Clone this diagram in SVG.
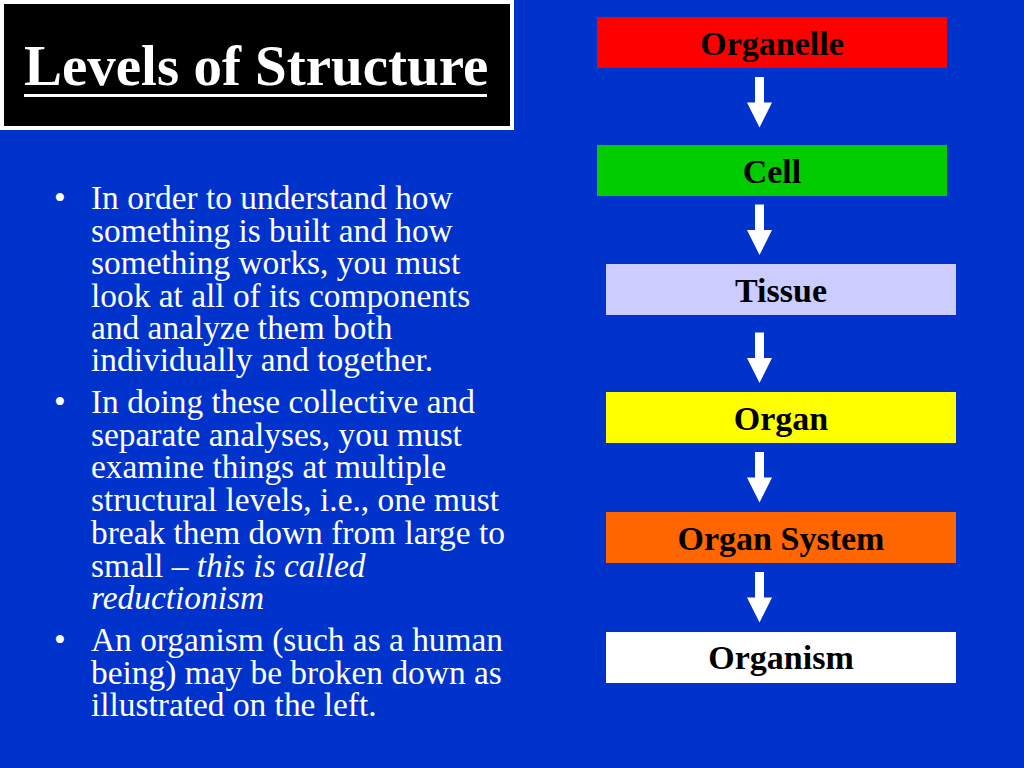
<svg xmlns="http://www.w3.org/2000/svg" xmlns:xlink="http://www.w3.org/1999/xlink" width="1024" height="768" viewBox="0 0 1024 768">
<defs>
<style>
.title{font-family:"Liberation Serif","Times New Roman",serif;font-weight:bold;font-size:57px;fill:#fff}
.body{font-family:"Liberation Serif","Times New Roman",serif;font-size:33.4px;fill:#fff}
.lbl{font-family:"Liberation Serif","Times New Roman",serif;font-weight:bold;font-size:34px;fill:#000;text-anchor:middle}
</style>
<path id="arrow" d="M-4.5,0 H4.5 V25.5 H12.5 L0,50.5 L-12.5,25.5 H-4.5 Z" fill="#fff"/>
</defs>
<rect x="0" y="0" width="1024" height="768" fill="#0033CC"/>
<g id="title">
<rect x="2" y="2" width="510" height="126" fill="#000" stroke="#fff" stroke-width="4"/>
<text class="title" x="24" y="85">Levels of Structure</text>
<rect x="24" y="94" width="463" height="3" fill="#fff"/>
</g>
<g id="bullets">
<text class="body" x="54" y="209">•</text>
<text class="body"><tspan x="91" y="209">In order to understand how</tspan><tspan x="91" y="242">something is built and how</tspan><tspan x="91" y="274">something works, you must</tspan><tspan x="91" y="307">look at all of its components</tspan><tspan x="91" y="339">and analyze them both</tspan><tspan x="91" y="371">individually and together.</tspan></text>
<text class="body" x="54" y="413">•</text>
<text class="body"><tspan x="91" y="413">In doing these collective and</tspan><tspan x="91" y="446">separate analyses, you must</tspan><tspan x="91" y="478">examine things at multiple</tspan><tspan x="91" y="511">structural levels, i.e., one must</tspan><tspan x="91" y="544">break them down from large to</tspan><tspan x="91" y="577">small – </tspan><tspan font-style="italic">this is called</tspan><tspan x="91" y="609" font-style="italic">reductionism</tspan></text>
<text class="body" x="54" y="651">•</text>
<text class="body"><tspan x="91" y="651">An organism (such as a human</tspan><tspan x="91" y="684">being) may be broken down as</tspan><tspan x="91" y="716">illustrated on the left.</tspan></text>
</g>
<g id="connectors">
<use xlink:href="#arrow" href="#arrow" transform="translate(759.5,77)"/>
<use xlink:href="#arrow" href="#arrow" transform="translate(759.5,204.5)"/>
<use xlink:href="#arrow" href="#arrow" transform="translate(759.5,332.5)"/>
<use xlink:href="#arrow" href="#arrow" transform="translate(759.5,452)"/>
<use xlink:href="#arrow" href="#arrow" transform="translate(759.5,572)"/>
</g>
<g id="organelle">
<rect x="597" y="17" width="350" height="51" fill="#FF0000"/>
<text class="lbl" x="772" y="55">Organelle</text>
</g>
<g id="cell">
<rect x="597" y="145" width="350" height="51" fill="#00CC00"/>
<text class="lbl" x="772" y="183">Cell</text>
</g>
<g id="tissue">
<rect x="606" y="264" width="350" height="51" fill="#CCCCFF"/>
<text class="lbl" x="781" y="302">Tissue</text>
</g>
<g id="organ">
<rect x="606" y="392" width="350" height="51" fill="#FFFF00"/>
<text class="lbl" x="781" y="430">Organ</text>
</g>
<g id="organ-system">
<rect x="606" y="512" width="350" height="51" fill="#FF6600"/>
<text class="lbl" x="781" y="550">Organ System</text>
</g>
<g id="organism">
<rect x="606" y="632" width="350" height="51" fill="#FFFFFF"/>
<text class="lbl" x="781" y="669">Organism</text>
</g>
</svg>
